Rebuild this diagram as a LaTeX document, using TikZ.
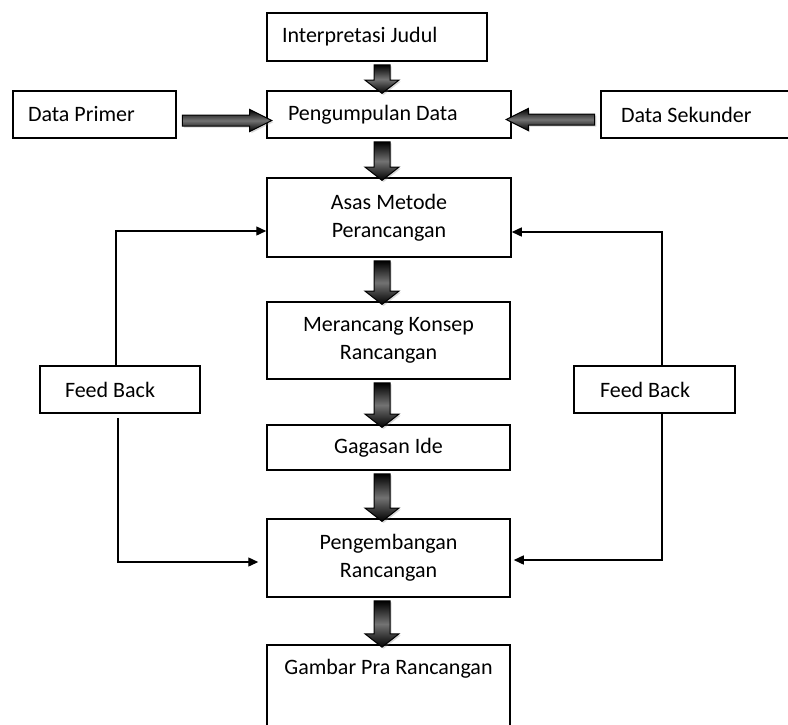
\documentclass[tikz,border=0pt]{standalone}
\usepackage{fontspec}
\setmainfont{Carlito}
\usetikzlibrary{shapes.arrows,shadows,calc,arrows.meta}
\newcommand{\teks}{\fontsize{11}{14}\selectfont}
\tikzset{
  kotak/.style={draw, line width=.75pt, inner sep=0pt, align=center, font=\teks},
  kiri/.style={align=flush left, inner xsep=#1},
  balik/.style={line width=.7pt, -{Triangle[length=5pt,width=4.5pt]}},
  panah/.style={single arrow, draw=black, line width=.5pt, inner xsep=0pt,
    top color=black, bottom color=black, middle color=black!55,
    drop shadow={shadow xshift=.8pt, shadow yshift=-.8pt, opacity=.3}},
  blok/.style n args={4}{to path={let \p1=(\tikztostart), \p2=(\tikztotarget),
    \n1={veclen(\x2-\x1,\y2-\y1)} in
    node[panah, rotate=#1, minimum height=\n1, inner ysep=#2,
      single arrow head extend=#3, single arrow tip angle=#4] at ($(\p1)!.5!(\p2)$) {}}},
  turun/.style={blok={-90}{3.75pt}{4.5pt}{104}},
  kekanan/.style={blok={0}{2.5pt}{2.75pt}{53}},
  kekiri/.style={blok={180}{2.5pt}{2.75pt}{53}}
}
\begin{document}
\begin{tikzpicture}[x=.5pt, y=-.5pt]
\useasboundingbox (0,0) rectangle (788,724);
\coordinate (sumbu) at (382,0);
\node[kotak, kiri=7.5pt, text width=95pt, minimum height=24pt] (judul) at (377,37) {Interpretasi Judul};
\node[kotak, kiri=10.5pt, text width=101pt, minimum height=23.5pt] (kumpul) at (389,114.5) {Pengumpulan Data};
\node[kotak, kiri=7.5pt, text width=66.5pt, minimum height=23.5pt] (primer) at (94.5,114.5) {Data Primer};
\node[kotak, kiri=10pt, text width=79.5pt, minimum height=23.5pt] (sekunder) at (700.5,114.5) {Data Sekunder};
\node[kotak, minimum width=122pt, minimum height=39.5pt] (asas) at (389,217.5) {Asas Metode\\Perancangan};
\node[kotak, minimum width=121.5pt, minimum height=38.5pt] (konsep) at (388.5,340.5) {Merancang Konsep\\Rancangan};
\node[kotak, minimum width=121.5pt, minimum height=22.5pt] (ide) at (388.5,447.5) {Gagasan Ide};
\node[kotak, minimum width=121.5pt, minimum height=39pt] (kembang) at (388.5,558) {Pengembangan\\Rancangan};
\node[kotak, minimum width=121.5pt, inner ysep=7pt, text depth=26pt, anchor=north] (gambar) at (388.5,644) {Gambar Pra Rancangan};
\node[kotak, kiri=12.5pt, text width=55pt, minimum height=23.5pt] (fbkiri) at (120,389.5) {Feed Back};
\node[kotak, kiri=13pt, text width=54.5pt, minimum height=23.5pt] (fbkanan) at (654.5,389.5) {Feed Back};

\path[turun] (judul.south -| sumbu) to (kumpul.north -| sumbu);
\path[turun] (kumpul.south -| sumbu) to (asas.north -| sumbu);
\path[turun] (asas.south -| sumbu) to (konsep.north -| sumbu);
\path[turun] (konsep.south -| sumbu) to (ide.north -| sumbu);
\path[turun] (ide.south -| sumbu) to (kembang.north -| sumbu);
\path[turun] (kembang.south -| sumbu) to (gambar.north -| sumbu);
\path[kekanan] ([yshift=-3pt]primer.east) to ([yshift=-3pt]kumpul.west);
\path[kekiri] ([yshift=-2.5pt]sekunder.west) to ([yshift=-2.5pt]kumpul.east);

\draw[balik] ([xshift=-2pt]fbkiri.north) |- ([yshift=-6.75pt]asas.west);
\draw[balik, shorten >=4pt] ([xshift=-1pt,yshift=-2pt]fbkiri.south) |- ([yshift=-2pt]kembang.west);
\draw[balik] ([xshift=3.75pt]fbkanan.north) |- ([yshift=-7.25pt]asas.east);
\draw[balik, shorten >=1.5pt] ([xshift=3.75pt]fbkanan.south) |- ([yshift=-1pt]kembang.east);

\end{tikzpicture}
\end{document}
